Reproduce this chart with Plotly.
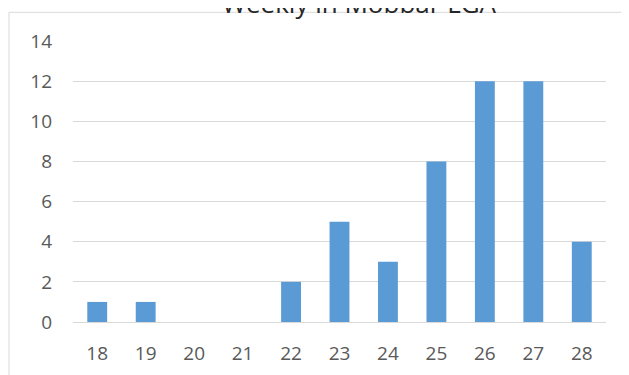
import plotly.graph_objects as go

weeks = ["18", "19", "20", "21", "22", "23", "24", "25", "26", "27", "28"]
cases = [1, 1, 0, 0, 2, 5, 3, 8, 12, 12, 4]
y_ticks = [0, 2, 4, 6, 8, 10, 12, 14]
title_text = "Weekly in Mobbar LGA"

W, H = 629, 375
OFF = 8  # page body margin offset
ml = 73 - OFF
mt = 40.7 - OFF
plot_right = 606 - OFF
plot_bottom = 321.7 - OFF
mr = W - plot_right
mb = H - plot_bottom
pw = W - ml - mr
ph = H - mt - mb

def px_to_paper_x(px):
    return (px - OFF - ml) / pw

def px_to_paper_y(py):
    return (plot_bottom - (py - OFF)) / ph

fig = go.Figure(
    go.Bar(
        x=weeks,
        y=cases,
        marker=dict(color="#5B9BD5", line=dict(width=0)),
        hoverinfo="x+y",
    )
)

fig.update_layout(
    width=W,
    height=H,
    margin=dict(l=ml, r=mr, t=mt, b=mb, pad=0),
    paper_bgcolor="white",
    plot_bgcolor="white",
    bargap=0.59,
    showlegend=False,
    font=dict(family="Open Sans", color="#595959", size=19),
    xaxis=dict(
        type="category",
        showgrid=False,
        showline=True,
        linecolor="#D9D9D9",
        linewidth=1,
        ticks="",
        ticklabelstandoff=14,
        tickfont=dict(size=19, color="#595959"),
    ),
    yaxis=dict(
        range=[0, 14],
        tickvals=y_ticks,
        showgrid=True,
        gridcolor="#D9D9D9",
        gridwidth=1,
        zeroline=False,
        showline=False,
        ticks="",
        ticklabelstandoff=20,
        tickfont=dict(size=19, color="#595959"),
    ),
    shapes=[
        dict(
            type="rect",
            xref="paper",
            yref="paper",
            x0=px_to_paper_x(9),
            x1=px_to_paper_x(680),
            y0=px_to_paper_y(420),
            y1=px_to_paper_y(12),
            line=dict(color="#D9D9D9", width=1),
            fillcolor="rgba(0,0,0,0)",
            layer="below",
        )
    ],
    annotations=[
        dict(
            text=title_text,
            xref="paper",
            yref="paper",
            x=px_to_paper_x(359),
            y=px_to_paper_y(3),
            xanchor="center",
            yanchor="middle",
            showarrow=False,
            font=dict(family="Open Sans", size=26, color="#262626"),
        )
    ],
)

fig.write_html("out.html")
